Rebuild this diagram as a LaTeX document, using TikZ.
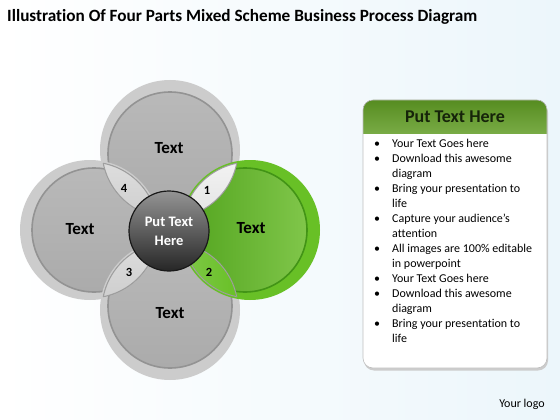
\documentclass[tikz,border=0pt]{standalone}
\usepackage{fontspec}
\setmainfont{Carlito}[Ligatures=CommonOff]

\definecolor{leafgreen}{RGB}{104,192,38}
\definecolor{leafdark}{RGB}{66,148,22}
\definecolor{leafmid}{RGB}{82,164,30}
\definecolor{leaflight}{RGB}{128,198,74}
\definecolor{headgreen}{RGB}{96,156,36}
\definecolor{headtext}{RGB}{22,36,10}
\definecolor{paper}{RGB}{236,246,251}

\begin{document}
\begin{tikzpicture}[x=1pt,y=-1pt,
                    halo/.style={fill=gray!40},
                    petal/.style={top color=gray!55,bottom color=gray!66,draw=gray!85,line width=1.6pt},
                    lens/.style={top color=gray!10,bottom color=gray!38},
                    greenlens/.style={left color=leaflight!75!white,right color=leafgreen},
                    lensedge/.style={draw=gray!75,line width=1pt},
                    petaltext/.style={font=\bfseries\fontsize{17}{20}\selectfont},
                    numtext/.style={font=\bfseries\fontsize{12.5}{14}\selectfont},
                    hub/.style={circle,minimum size=80pt,inner sep=0pt,top color=black!42,bottom color=black!85,
                                draw=black!90,line width=1.2pt,text=white,align=center,
                                font=\bfseries\fontsize{14.5}{19}\selectfont},
                    panel/.style={rectangle,rounded corners=10pt,minimum width=184pt,minimum height=268pt,
                                  fill=white,inner sep=0pt,outer sep=0pt},
                    itemtext/.style={anchor=base west,inner sep=0pt,font=\fontsize{12}{15}\selectfont}]
  \useasboundingbox (0,0) rectangle (560,420);
  \fill[left color=white,right color=paper] (0,0) rectangle (560,420);
  \node[anchor=base west,inner sep=0pt,font=\bfseries\fontsize{17.2}{20}\selectfont] (title) at (7,22)
    {Illustration Of Four Parts Mixed Scheme Business Process Diagram};

  % four petals round the hub
  \coordinate (ctop) at (170,150);
  \coordinate (cright) at (250,230);
  \coordinate (cbottom) at (170,310);
  \coordinate (cleft) at (90,230);
  \foreach \p/\dx/\dy in {top/0/4,left/4/0,bottom/0/-4}{
    \fill[halo] (c\p) circle (70pt);
    \draw[petal] ([shift={(\dx,\dy)}]c\p) circle (62pt);
  }
  \fill[leafgreen] (cright) circle (70pt);
  \draw[left color=leafmid,right color=leaflight,draw=leafdark,line width=1.6pt]
    ([shift={(-5,0)}]cright) circle (62pt);

  % overlaps
  \foreach \p/\q/\s in {top/right/lens,right/bottom/greenlens,bottom/left/lens,left/top/lens}{
    \begin{scope}
      \clip (c\p) circle (68pt);
      \fill[\s] (c\q) circle (68pt);
      \draw[lensedge] (c\q) circle (68pt);
    \end{scope}
    \begin{scope}
      \clip (c\q) circle (68pt);
      \draw[lensedge] (c\p) circle (68pt);
    \end{scope}
  }
  \node[numtext] (n1) at (207,190) {1};
  \node[numtext] (n2) at (209,272) {2};
  \node[numtext] (n3) at (129,272) {3};
  \node[numtext] (n4) at (124,188) {4};

  \node[petaltext] (ttop) at (169,148) {Text};
  \node[petaltext] (tright) at (251,228) {Text};
  \node[petaltext] (tbottom) at (170,313) {Text};
  \node[petaltext] (tleft) at (80,229) {Text};
  \node[hub] (hub) at (169,231) {Put Text\\Here};

  % text panel
  \fill[gray!40,rounded corners=10pt] (364,102.5) rectangle (548,370.5);
  \node[panel] (panel) at (455,234) {};
  \begin{scope}
    \clip[rounded corners=10pt] (panel.north west) rectangle (panel.south east);
    \fill[top color=headgreen!90!black,bottom color=headgreen!85!white] (panel.north west) rectangle (547,133);
  \end{scope}
  \draw[gray!50,line width=.6pt,rounded corners=10pt] (panel.north west) rectangle (panel.south east);
  \node[font=\bfseries\fontsize{18}{20}\selectfont,text=headtext] (head) at (455,117) {Put Text Here};
  \foreach \y [count=\i] in {143,158,188,218,248,278,293,323}
    \node[itemtext] (dot\i) at (374,\y+4) {\textbullet};
  \foreach \y/\txt [count=\i] in {143/Your Text Goes here,158/Download this awesome,173/diagram,
                                  188/Bring your presentation to,203/life,218/Capture your audience’s,
                                  233/attention,248/All images are 100\% editable,263/in powerpoint,
                                  278/Your Text Goes here,293/Download this awesome,308/diagram,
                                  323/Bring your presentation to,338/life}
    \node[itemtext] (line\i) at (392,\y+4) {\txt};

  \node[font=\fontsize{12}{14}\selectfont] (logo) at (522,404) {Your logo};
\end{tikzpicture}
\end{document}
